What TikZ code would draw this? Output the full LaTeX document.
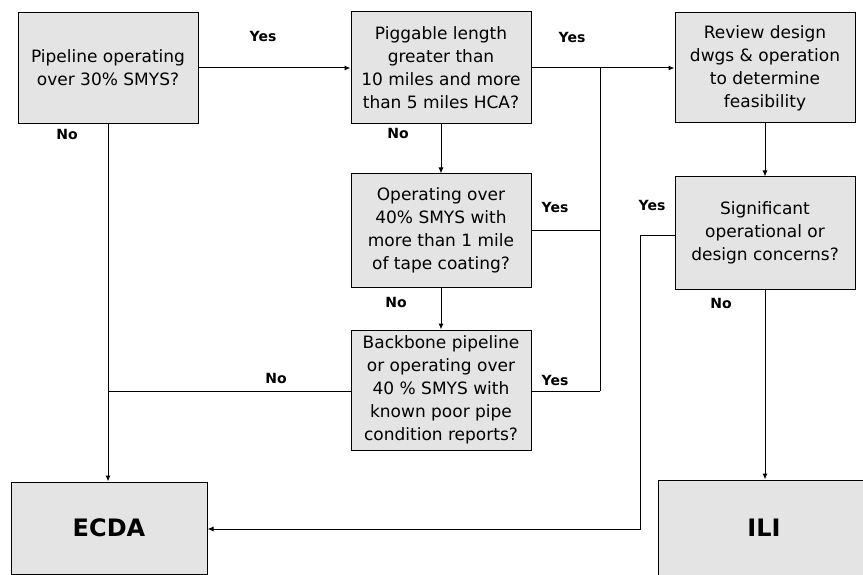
\documentclass[tikz,border=0pt]{standalone}
\usepackage{fontspec}
\setmainfont{DejaVu Sans}
\usetikzlibrary{arrows.meta,positioning}
\definecolor{stipple}{RGB}{228,228,228}

\begin{document}
\begin{tikzpicture}[x=1pt, y=-1pt,
  >={Latex[length=6pt,width=5pt]}, line width=1pt,
  Q/.style={draw, fill=stipple, align=center, inner sep=2pt,
            minimum width=180pt, minimum height=111pt,
            font=\fontsize{17}{23}\selectfont},
  R/.style={Q, font=\fontsize{24}{28}\selectfont\bfseries},
  lbl/.style={font=\fontsize{14}{16}\selectfont\bfseries, inner sep=1pt}]
\useasboundingbox (0,0) rectangle (863,575);
% decision boxes
\node[Q] (b1) at (108,68) {Pipeline operating\\over 30\% SMYS?};
\node[Q, right=152pt of b1, minimum height=112pt] (b2) {Piggable length\\greater than\\10 miles and more\\than 5 miles HCA?};
\node[Q, right=143pt of b2, minimum height=110pt] (b3) {Review design\\dwgs \& operation\\to determine\\feasibility};
\node[Q, below=49pt of b2, minimum height=113pt] (b4) {Operating over\\40\% SMYS with\\more than 1 mile\\of tape coating?};
\node[Q, below=42pt of b4, minimum height=120pt] (b6) {Backbone pipeline\\or operating over\\40 \% SMYS with\\known poor pipe\\condition reports?};
\node[Q, below=53pt of b3, minimum height=112pt] (b5) {Significant\\operational or\\design concerns?};
% outcomes
\node[R, minimum width=196pt, minimum height=92pt] (ecda) at (109,528) {ECDA};
\node[R, minimum width=212pt, minimum height=96pt] (ili) at (764,528) {ILI};
% connectors
\coordinate (j1) at (600,67);
\coordinate (j2) at (600,391);
\coordinate (j3) at (640,529);
\draw[->] (b1.east) -- (b1.east -| b2.west);
\draw[->] (b2.east) -- (b2.east -| b3.west);
\draw[->] (b1.south) -- (b1.south |- ecda.north);
\draw[->] (b2.south) -- (b4.north);
\draw[->] (b4.south) -- (b6.north);
\draw[->] (b3.south) -- (b3.south |- b5.north);
\draw[->] (b5.south) -- (b5.south |- ili.north);
\draw (b2.east -| j1) -- (j2);
\draw (b4.east) -- (b4.east -| j1);
\draw (b6.east |- j2) -- (j2);
\draw (b6.west |- j2) -- (j2 -| b1.south);
\draw[->] ([yshift=-3pt]b5.west) -| (j3) -- (j3 -| ecda.east);
% labels
\node[lbl] (y1) at (263,36) {Yes};
\node[lbl] (n1) at (67,134) {No};
\node[lbl] (y2) at (572,37) {Yes};
\node[lbl] (n2) at (398,133) {No};
\node[lbl] (y3) at (555,207) {Yes};
\node[lbl] (n3) at (396,302) {No};
\node[lbl] (y4) at (555,380) {Yes};
\node[lbl] (n4) at (276,378) {No};
\node[lbl] (y5) at (652,205) {Yes};
\node[lbl] (n5) at (721,303) {No};
\end{tikzpicture}
\end{document}
